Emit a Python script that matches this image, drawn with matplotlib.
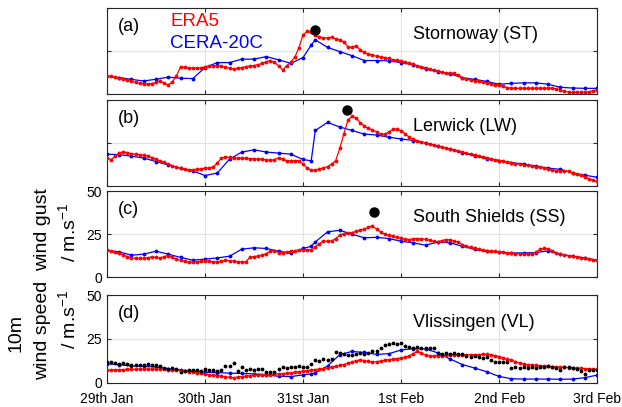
import numpy as np
import matplotlib
matplotlib.use('Agg')
from matplotlib import pyplot as plt

plt.rcParams['font.family'] = ['Liberation Sans', 'DejaVu Sans']
plt.rcParams['mathtext.default'] = 'regular'

# time axis in hours from 29 Jan 00:00
era5_hours = np.arange(0, 121)
cera_hours = [0, 3, 6, 9, 12, 15, 18, 21, 24, 27, 30, 33, 36, 39, 42, 45, 48, 50,
              51, 54, 57, 60, 63, 66, 69, 72, 75, 78, 81, 84, 87, 90, 93, 96, 99,
              102, 105, 108, 111, 114, 117, 120]
day_labels = ['29th Jan', '30th Jan', '31st Jan', '1st Feb', '2nd Feb', '3rd Feb']
stations = ['Stornoway (ST)', 'Lerwick (LW)', 'South Shields (SS)', 'Vlissingen (VL)']
panel_tags = ['(a)', '(b)', '(c)', '(d)']

# ERA5 hourly wind (gust for a-c, 10m speed for d)
era5_a = [10.5, 10.2, 9.8, 9.3, 8.8, 8.0, 7.4, 6.8, 6.2, 5.8, 5.8, 6.1,
          6.8, 7.6, 6.4, 5.3, 7.0, 10.5, 15.8, 15.6, 15.1, 15.0, 15.0, 15.2,
          15.8, 16.4, 16.4, 16.4, 16.2, 15.6, 15.0, 14.6, 14.9, 15.4, 15.9, 16.3,
          16.6, 17.1, 17.8, 18.8, 19.5, 18.5, 16.5, 14.0, 16.5, 18.5, 21.5, 27.0,
          34.5, 36.4, 36.0, 34.2, 33.2, 32.6, 32.8, 33.0, 32.2, 31.4, 30.3, 27.5,
          27.2, 28.0, 25.7, 24.2, 23.2, 22.6, 22.0, 21.5, 21.2, 20.7, 20.0, 19.6,
          19.2, 18.5, 17.9, 17.2, 16.5, 15.9, 15.2, 14.5, 13.9, 13.3, 12.8, 12.3,
          12.2, 12.0, 10.8, 9.5, 8.6, 8.2, 7.8, 7.3, 6.9, 6.5, 5.9, 5.4,
          5.0, 4.4, 3.7, 3.3, 3.3, 3.3, 3.3, 3.3, 3.3, 3.3, 3.3, 3.3,
          3.4, 3.3, 3.0, 2.3, 1.6, 1.1, 1.0, 1.0, 1.0, 1.0, 1.2, 2.0,
          2.3]
era5_b = [16.7, 15.4, 17.5, 19.4, 20.0, 19.6, 19.0, 18.7, 18.4, 18.0, 17.5, 16.7,
          15.7, 14.8, 13.9, 12.9, 12.0, 11.2, 10.4, 9.8, 9.5, 9.7, 9.9, 10.2,
          10.5, 10.8, 11.2, 13.5, 16.3, 17.0, 16.8, 16.5, 16.4, 16.4, 16.3, 16.1,
          16.0, 15.8, 15.7, 15.4, 15.1, 15.5, 16.6, 15.8, 14.8, 14.8, 14.9, 15.0,
          13.0, 10.6, 9.5, 9.3, 10.0, 10.6, 11.5, 13.0, 15.0, 22.0, 30.5, 38.5,
          40.6, 39.5, 37.0, 35.0, 33.6, 32.8, 31.5, 30.2, 30.2, 31.5, 33.0, 33.2,
          32.3, 30.5, 28.5, 27.2, 26.5, 25.8, 25.2, 24.6, 24.0, 23.4, 22.8, 22.2,
          21.7, 21.2, 20.6, 20.0, 19.3, 18.8, 18.2, 17.7, 17.1, 16.5, 16.0, 15.5,
          15.0, 14.5, 14.0, 13.6, 13.2, 12.9, 12.6, 12.2, 11.9, 11.5, 11.2, 10.6,
          10.0, 9.4, 9.0, 9.1, 9.0, 8.7, 7.8, 7.0, 6.5, 5.6, 4.5, 3.5,
          3.0]
era5_c = [15.7, 15.0, 14.5, 13.9, 13.0, 12.0, 11.2, 11.0, 10.9, 10.9, 11.3, 11.8,
          11.5, 11.2, 12.0, 12.6, 11.5, 10.5, 9.8, 9.2, 8.7, 8.8, 9.0, 9.2,
          9.3, 9.2, 9.0, 8.9, 9.3, 9.8, 9.6, 9.2, 9.0, 8.9, 9.0, 11.5,
          12.0, 12.3, 12.9, 13.7, 15.0, 15.5, 14.3, 14.3, 14.6, 15.0, 15.4, 15.8,
          16.1, 16.0, 15.7, 17.5, 19.5, 20.9, 21.0, 21.0, 22.5, 24.5, 25.4, 25.6,
          26.0, 26.6, 27.3, 28.0, 29.0, 29.7, 28.0, 26.2, 25.0, 24.4, 23.8, 23.2,
          22.6, 22.0, 21.9, 22.3, 22.5, 22.3, 22.0, 21.5, 20.8, 20.6, 21.3, 21.9,
          21.7, 21.2, 20.3, 19.0, 18.0, 17.3, 16.7, 16.2, 15.7, 15.5, 15.2, 15.0,
          14.7, 14.4, 14.1, 13.9, 13.7, 13.6, 13.4, 13.4, 13.5, 14.5, 16.2, 16.7,
          16.5, 15.5, 14.2, 13.4, 12.9, 12.5, 12.1, 11.8, 11.4, 11.0, 10.6, 10.1,
          9.8]
era5_d = [7.2, 7.2, 7.3, 7.3, 7.4, 7.5, 7.6, 7.6, 7.7, 7.7, 7.7, 7.6,
          7.6, 7.6, 7.5, 7.4, 7.2, 7.0, 6.8, 6.6, 6.3, 6.0, 5.6, 5.2,
          4.8, 4.5, 4.2, 4.0, 3.7, 3.4, 3.0, 2.8, 3.1, 3.4, 3.7, 3.9,
          4.1, 4.3, 4.4, 4.5, 4.6, 4.8, 5.0, 5.1, 5.3, 5.6, 5.9, 6.2,
          6.5, 6.8, 7.1, 7.4, 7.7, 8.0, 8.3, 8.7, 9.3, 9.8, 10.3, 11.0,
          11.8, 12.5, 13.0, 12.6, 12.1, 11.7, 11.9, 12.3, 12.8, 13.1, 13.4, 13.7,
          14.1, 14.5, 15.3, 16.6, 17.8, 16.8, 15.6, 15.3, 15.3, 15.3, 15.4, 15.6,
          15.8, 15.9, 15.9, 15.9, 15.9, 15.9, 15.9, 16.0, 16.1, 16.1, 15.8, 15.4,
          14.9, 14.2, 13.4, 12.7, 12.0, 11.2, 10.5, 10.2, 10.0, 9.8, 9.6, 9.5,
          9.3, 9.1, 9.0, 8.8, 8.7, 8.6, 8.4, 8.3, 8.2, 8.0, 7.8, 7.7,
          7.6]

# CERA-20C 3-hourly
cera_a = [10.2, 9.6, 8.5, 7.6, 8.6, 9.8, 9.2, 9.0, 15.4, 18.3, 18.3, 20.3, 20.3, 21.8,
          19.9, 17.9, 21.2, 28.5, 31.6, 27.1, 24.7, 22.3, 19.5, 19.5, 19.3, 18.3, 17.0,
          14.6, 13.0, 11.7, 9.5, 8.5, 7.3, 5.7, 6.2, 6.5, 6.5, 5.7, 3.9, 3.5, 3.3, 3.3]
cera_b = [18.7, 18.4, 17.5, 16.4, 14.4, 12.5, 10.5, 9.0, 6.3, 7.7, 15.8, 19.9, 21.2, 19.9,
          19.3, 18.7, 15.6, 14.8, 32.4, 37.1, 34.4, 32.4, 30.3, 29.8, 28.5, 27.5, 26.6,
          25.1, 23.2, 21.6, 19.6, 17.6, 16.1, 15.0, 13.8, 13.0, 11.8, 10.6, 9.9, 7.8, 6.5, 5.3]
cera_c = [15.7, 14.7, 12.8, 13.4, 15.1, 13.4, 11.5, 9.9, 10.5, 11.2, 12.2, 16.3, 17.1, 16.7,
          15.2, 13.8, 16.7, 18.0, 20.5, 26.4, 27.3, 25.0, 22.9, 23.2, 22.5, 20.9, 20.0,
          18.6, 20.5, 20.0, 18.0, 16.2, 15.0, 14.5, 14.1, 14.1, 14.3, 15.3, 13.4, 12.2, 11.2, 9.9]
cera_d = [10.7, 10.2, 9.5, 9.2, 8.9, 8.0, 7.2, 6.5, 5.9, 5.7, 5.4, 5.2, 5.0, 4.5,
          3.6, 3.4, 4.4, 4.9, 5.5, 9.5, 16.0, 17.8, 17.2, 16.1, 16.5, 18.6, 19.4,
          19.2, 17.0, 13.5, 10.3, 8.3, 6.2, 3.5, 2.2, 2.0, 2.0, 2.0, 1.9, 2.0, 2.8, 4.3]

# observed 10m wind at Vlissingen (hourly)
obs_d = [11.5, 11.8, 11.3, 10.5, 11.0, 10.4, 10.0, 10.3, 9.8, 10.0, 10.4, 9.9,
         10.1, 9.2, 8.5, 8.0, 8.2, 7.6, 5.8, 6.8, 7.4, 7.0, 7.2, 6.8,
         7.5, 7.0, 7.3, 6.9, 7.4, 9.5, 9.6, 11.2, 6.6, 8.8, 7.4, 7.6,
         7.2, 7.7, 7.5, 6.0, 6.2, 5.8, 7.6, 9.0, 8.6, 9.1, 8.8, 9.2,
         9.0, 8.8, 10.6, 13.0, 12.5, 13.2, 12.8, 13.4, 17.4, 16.8, 16.5, 15.8,
         16.0, 16.2, 16.8, 16.5, 17.0, 17.8, 18.3, 19.8, 21.6, 21.8, 22.6, 22.3,
         22.4, 20.8, 20.6, 19.9, 20.2, 19.6, 19.8, 19.6, 19.9, 17.0, 16.6, 16.8,
         16.5, 16.8, 16.4, 16.6, 15.0, 14.6, 15.0, 14.7, 14.2, 14.8, 12.8, 11.9,
         11.8, 12.0, 11.6, 8.2, 9.0, 8.6, 8.9, 8.3, 8.8, 8.6, 8.9, 8.9,
         9.2, 9.0, 8.4, 7.0, 8.8, 9.0, 8.6, 7.8, 6.8, 5.0, 7.0, 7.3,
         7.2]

# observed peak gust (hour, value) for a-c
peak_hours = [51, 58.8, 65.4]
peak_vals = [37.4, 44.5, 38.0]

era5_all = [era5_a, era5_b, era5_c, era5_d]
cera_all = [cera_a, cera_b, cera_c, cera_d]

fig = plt.figure(figsize=(6.22, 4.07), dpi=100)
boxes = [(0.172, 0.769, 0.788, 0.211),
         (0.172, 0.542, 0.788, 0.212),
         (0.172, 0.319, 0.788, 0.211),
         (0.172, 0.060, 0.788, 0.215)]

for i in range(4):
    ax = fig.add_axes(boxes[i])
    ax.plot(cera_hours, cera_all[i], '-', color='blue', lw=0.9,
            marker='.', ms=3.5, zorder=3)
    ax.plot(era5_hours, era5_all[i], '-', color='red', lw=0.9,
            marker='.', ms=3.5, zorder=4)
    if i < 3:
        ax.plot(peak_hours[i], peak_vals[i], 'o', color='black', ms=6.5, zorder=5)
    else:
        ax.plot(era5_hours, obs_d, '.', color='black', ms=3.5, zorder=5)
    ax.set_xlim(0, 120)
    ax.set_ylim(0, 50)
    ax.set_xticks(range(0, 121, 24))
    ax.set_yticks([0, 25, 50])
    ax.grid(True, color='#e3e3e3', lw=0.8)
    ax.set_axisbelow(True)
    ax.tick_params(direction='in', top=True, right=True, length=3,
                   labelsize=10, color='#262626')
    ax.tick_params(axis='x', pad=6.5)
    ax.tick_params(axis='y', pad=3.5)
    for s in ax.spines.values():
        s.set_color('#262626')
        s.set_linewidth(0.8)
    if i == 3:
        ax.set_xticklabels(day_labels)
    else:
        ax.set_xticklabels([])
    if i < 2:
        ax.set_yticklabels([])
    ax.text(0.022, 0.79, panel_tags[i], transform=ax.transAxes, fontsize=13,
            ha='left', va='center')
    ax.text(0.625, 0.69, stations[i], transform=ax.transAxes, fontsize=13,
            ha='left', va='center')
    if i == 0:
        ax.text(0.129, 0.85, 'ERA5', color='red', transform=ax.transAxes,
                fontsize=13.5, ha='left', va='center')
        ax.text(0.129, 0.59, 'CERA-20C', color='blue', transform=ax.transAxes,
                fontsize=13.5, ha='left', va='center')

fig.text(0.068, 0.435, 'wind gust', rotation=90, fontsize=14, ha='center', va='center')
fig.text(0.110, 0.428, '/ m.s$^{-1}$', rotation=90, fontsize=14, ha='center', va='center')
fig.text(0.026, 0.182, '10m', rotation=90, fontsize=14, ha='center', va='center')
fig.text(0.068, 0.189, 'wind speed', rotation=90, fontsize=14, ha='center', va='center')
fig.text(0.110, 0.216, '/ m.s$^{-1}$', rotation=90, fontsize=14, ha='center', va='center')

plt.savefig('out.png', dpi=100)
